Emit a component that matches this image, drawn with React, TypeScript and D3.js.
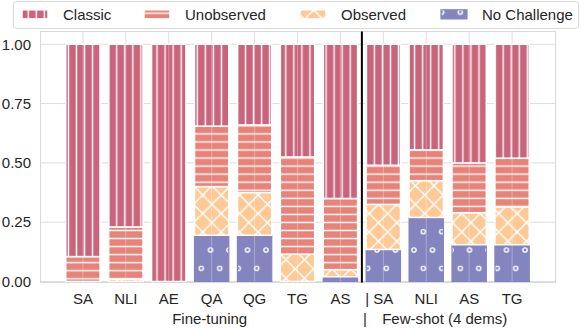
import { useEffect, useRef } from "react";
import * as d3 from "d3";

// categories along x (duplicates allowed, indexed by position)
const categories = ["SA", "NLI", "AE", "QA", "QG", "TG", "AS", "| SA", "NLI", "AS", "TG"];
const groupNames = ["Fine-tuning", "Few-shot (4 dems)"];
const groupSizes = [7, 4];

const seriesNames = ["Classic", "Unobserved", "Observed", "No Challenge"];
// fractions per category
const classic = [0.895, 0.77, 1.0, 0.345, 0.34, 0.475, 0.65, 0.51, 0.445, 0.5, 0.48];
const unobserved = [0.105, 0.22, 0, 0.255, 0.285, 0.41, 0.3, 0.165, 0.13, 0.21, 0.205];
const observed = [0, 0.01, 0, 0.205, 0.18, 0.115, 0.03, 0.19, 0.155, 0.135, 0.16];
const noChallenge = [0, 0, 0, 0.195, 0.195, 0, 0.02, 0.135, 0.27, 0.155, 0.155];

const yTicks = [0, 0.25, 0.5, 0.75, 1.0];

const colors = ["#c9647b", "#e8837a", "#fec995", "#8484bf"];

const width = 584,
    height = 328,
    plot = { left: 40, right: 555, top: 32, bottom: 282 };

const font = "'Liberation Sans', Arial, Helvetica, sans-serif";
const textColor = "#262626";

export default function App() {
    const svgRef = useRef<SVGSVGElement>(null);

    useEffect(() => {
        const svg = d3.select(svgRef.current);
        svg.selectAll("*").remove();

        const rows = categories.map((c, i) => ({
            i,
            "Classic": classic[i],
            "Unobserved": unobserved[i],
            "Observed": observed[i],
            "No Challenge": noChallenge[i],
        }));
        const keys = ["No Challenge", "Observed", "Unobserved", "Classic"];
        const stacked = d3.stack<any>().keys(keys)(rows);

        const x = d3.scalePoint<number>().domain(d3.range(categories.length)).range([plot.left, plot.right]).padding(1);
        const y = d3.scaleLinear().domain([0, 1.05]).range([281.5, 32.4]);
        const bw = x.step() * 0.8;

        // hatch patterns, one per series (ids by index)
        const defs = svg.append("defs");
        const hs = 8.05;
        const p0 = defs.append("pattern").attr("id", "pat-0").attr("patternUnits", "userSpaceOnUse")
            .attr("x", 76.5 - hs / 2).attr("y", 0).attr("width", hs).attr("height", 10);
        p0.append("rect").attr("width", hs).attr("height", 10).attr("fill", colors[0]);
        p0.append("line").attr("x1", hs / 2).attr("x2", hs / 2).attr("y1", -1).attr("y2", 11)
            .attr("stroke", "white").attr("stroke-width", 1.4);

        const p1 = defs.append("pattern").attr("id", "pat-1").attr("patternUnits", "userSpaceOnUse")
            .attr("x", 0).attr("y", 262.7 - hs / 2).attr("width", 10).attr("height", hs);
        p1.append("rect").attr("width", 10).attr("height", hs).attr("fill", colors[1]);
        p1.append("line").attr("y1", hs / 2).attr("y2", hs / 2).attr("x1", -1).attr("x2", 11)
            .attr("stroke", "white").attr("stroke-width", 1.4);

        const ds = 18.5;
        const p2 = defs.append("pattern").attr("id", "pat-2").attr("patternUnits", "userSpaceOnUse")
            .attr("x", 202.7).attr("y", 195).attr("width", ds).attr("height", ds);
        p2.append("rect").attr("width", ds).attr("height", ds).attr("fill", colors[2]);
        p2.append("path")
            .attr("d", `M-5,-5L${ds + 5},${ds + 5}M${ds - 5},-5L${ds + 5},5M-5,${ds - 5}L5,${ds + 5}` +
                `M-5,${ds + 5}L${ds + 5},-5M-5,5L5,-5M${ds - 5},${ds + 5}L${ds + 5},${ds - 5}`)
            .attr("stroke", "white").attr("stroke-width", 1.5).attr("fill", "none");

        const cw = 18.5, ch = 36.6;
        const p3 = defs.append("pattern").attr("id", "pat-3").attr("patternUnits", "userSpaceOnUse")
            .attr("x", 414).attr("y", 250).attr("width", cw).attr("height", ch);
        p3.append("rect").attr("width", cw).attr("height", ch).attr("fill", colors[3]);
        [[0, 0], [cw, 0], [0, ch], [cw, ch], [cw / 2, ch / 2]].forEach(([cx, cy]) => {
            p3.append("circle").attr("cx", cx).attr("cy", cy).attr("r", 2.1)
                .attr("fill", "none").attr("stroke", "white").attr("stroke-width", 1.4);
        });

        // grid
        const grid = svg.append("g");
        grid.selectAll("line.h").data(yTicks).enter().append("line")
            .attr("x1", plot.left).attr("x2", plot.right)
            .attr("y1", d => y(d)).attr("y2", d => y(d))
            .attr("stroke", "#dddddd").attr("stroke-width", 1);
        grid.selectAll("line.v").data(d3.range(categories.length)).enter().append("line")
            .attr("x1", d => x(d)!).attr("x2", d => x(d)!)
            .attr("y1", plot.top).attr("y2", plot.bottom)
            .attr("stroke", "#dddddd").attr("stroke-width", 1);

        // bars
        const bars = svg.append("g");
        stacked.forEach(layer => {
            const key = layer.key;
            const k = seriesNames.indexOf(key);
            bars.append("g").selectAll("rect")
                .data(layer.filter(d => d[1] - d[0] > 0))
                .enter().append("rect")
                .attr("x", d => x(d.data.i)! - bw / 2)
                .attr("y", d => y(d[1]))
                .attr("width", bw)
                .attr("height", d => y(d[0]) - y(d[1]))
                .attr("fill", `url(#pat-${k})`)
                .attr("stroke", k === 3 ? colors[3] : "white")
                .attr("stroke-width", k === 3 ? 1.2 : 1.5);
        });

        // faint seam through the bars
        bars.append("g").selectAll("line").data(d3.range(categories.length)).enter().append("line")
            .attr("x1", d => x(d)!).attr("x2", d => x(d)!)
            .attr("y1", d => y(classic[d] + unobserved[d] + observed[d] + noChallenge[d]))
            .attr("y2", y(0))
            .attr("stroke", "white").attr("stroke-opacity", 0.3).attr("stroke-width", 1);

        // frame
        svg.append("rect")
            .attr("x", plot.left + 0.5).attr("y", plot.top - 0.5)
            .attr("width", plot.right - plot.left).attr("height", plot.bottom - plot.top + 1)
            .attr("fill", "none").attr("stroke", "#d9d9d9").attr("stroke-width", 1);

        // separator between the groups
        const sepX = x(groupSizes[0] - 1)! + x.step() / 2;
        svg.append("line")
            .attr("x1", sepX).attr("x2", sepX)
            .attr("y1", plot.top - 0.5).attr("y2", plot.bottom + 0.5)
            .attr("stroke", "black").attr("stroke-width", 2);

        // y axis labels
        svg.append("g").selectAll("text").data(yTicks).enter().append("text")
            .attr("x", 31).attr("y", d => y(d) + 5.3)
            .attr("text-anchor", "end")
            .attr("font-family", font).attr("font-size", 15).attr("fill", textColor)
            .text(d => d3.format(".2f")(d));

        // x tick labels
        const xl = svg.append("g");
        categories.forEach((c, i) => {
            const t = xl.append("text")
                .attr("y", 303.5)
                .attr("font-family", font).attr("font-size", 15).attr("fill", textColor)
                .text(c);
            if (c.startsWith("| ")) {
                // keep the name itself centred on the tick
                const probe = xl.append("text").attr("font-family", font).attr("font-size", 15).text(c.slice(2));
                const w = (probe.node() as SVGTextElement).getComputedTextLength();
                probe.remove();
                t.attr("x", x(i)! + w / 2).attr("text-anchor", "end");
            } else {
                t.attr("x", x(i)!).attr("text-anchor", "middle");
            }
        });

        // group labels
        let start = 0;
        groupNames.forEach((g, gi) => {
            const idx = d3.range(start, start + groupSizes[gi]);
            const cx = d3.mean(idx, d => x(d)!)! - (gi === 1 ? 3 : 2);
            xl.append("text")
                .attr("x", cx).attr("y", 324)
                .attr("text-anchor", "middle")
                .attr("font-family", font).attr("font-size", 15).attr("fill", textColor)
                .text(g);
            start += groupSizes[gi];
        });
        xl.append("text")
            .attr("x", sepX + 3).attr("y", 324)
            .attr("text-anchor", "middle")
            .attr("font-family", font).attr("font-size", 15).attr("fill", textColor)
            .text("|");

        // legend
        const lg = svg.append("g");
        lg.append("rect")
            .attr("x", 13.5).attr("y", 1.5).attr("width", 565).attr("height", 27).attr("rx", 3)
            .attr("fill", "white").attr("fill-opacity", 0.8)
            .attr("stroke", "#d9d9d9").attr("stroke-width", 1);
        const legendX = [22, 144, 300, 441];
        seriesNames.forEach((s, i) => {
            lg.append("rect")
                .attr("x", legendX[i]).attr("y", 9.8).attr("width", 26).attr("height", 9.1)
                .attr("fill", `url(#pat-${i})`)
                .attr("stroke", i === 3 ? colors[3] : "white")
                .attr("stroke-width", i === 3 ? 1.2 : 1.5);
            lg.append("text")
                .attr("x", legendX[i] + 41).attr("y", 19.5)
                .attr("font-family", font).attr("font-size", 15).attr("fill", textColor)
                .text(s);
        });
    }, []);

    return (
        <svg ref={svgRef} width={width} height={height}
            style={{ position: "absolute", left: 0, top: 0, background: "white" }} />
    );
}
